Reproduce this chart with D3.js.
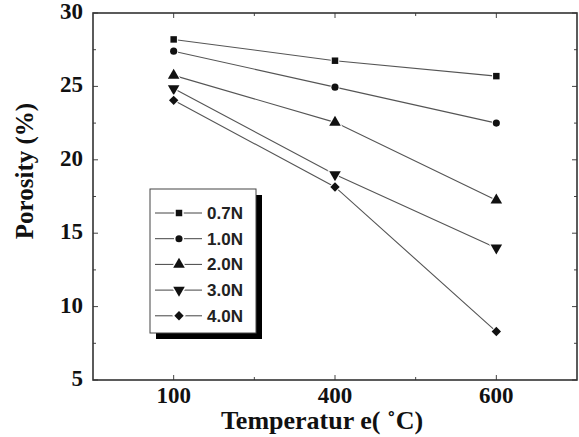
<!DOCTYPE html>
<html lang="en">
<head>
<meta charset="UTF-8">
<title>Porosity vs Temperature</title>
<script src="https://cdn.jsdelivr.net/npm/d3@7"></script>
<style>
    body { margin: 0; background: #fff; }
    .tick-label { font-family: "Liberation Serif", "Times New Roman", serif; font-weight: bold; font-size: 23px; fill: #111; }
    .axis-title { font-family: "Liberation Serif", "Times New Roman", serif; font-weight: bold; font-size: 26px; fill: #111; }
    .legend text { font-family: "Liberation Sans", Arial, sans-serif; font-weight: bold; font-size: 17px; fill: #222; }
</style>
</head>
<body>
<script>
const temps = ["100", "400", "600"];
const loads = ["0.7N", "1.0N", "2.0N", "3.0N", "4.0N"];
const porosity07 = [28.2, 26.75, 25.7];
const porosity10 = [27.4, 24.95, 22.5];
const porosity20 = [25.75, 22.55, 17.25];
const porosity30 = [24.85, 19.0, 14.0];
const porosity40 = [24.05, 18.15, 8.3];
const yTicks = [5, 10, 15, 20, 25, 30];
const symbolTypes = ["square", "circle", "up", "down", "diamond"];

const series = loads.map((name, i) => ({
    name: name,
    values: [porosity07, porosity10, porosity20, porosity30, porosity40][i],
    symbol: symbolTypes[i]
}));

const w = 579, h = 437;
const mLeft = 93, mRight = 577, mTop = 13, mBottom = 380;

const svg = d3.select("body").append("svg")
    .attr("width", w).attr("height", h);

const x = d3.scalePoint().domain(temps).range([mLeft, mRight]).padding(0.5);
const y = d3.scaleLinear().domain([5, 30]).range([mBottom, mTop]);

// marker helpers: diamond = rotated square, down = rotated triangle
function markerPath(s) {
    if (s === "square") return d3.symbol().type(d3.symbolSquare).size(42)();
    if (s === "circle") return d3.symbol().type(d3.symbolCircle).size(40)();
    if (s === "diamond") return d3.symbol().type(d3.symbolSquare).size(44)();
    return d3.symbol().type(d3.symbolTriangle).size(58)();
}
function markerTransform(s, cx, cy) {
    let r = s === "down" ? " rotate(180)" : (s === "diamond" ? " rotate(45)" : "");
    return "translate(" + cx + "," + cy + ")" + r;
}

// ticks (inward, all four sides)
const minorY = d3.range(7.5, 30, 5);
const g = svg.append("g").attr("stroke", "#444").attr("stroke-width", 1);
yTicks.forEach(v => {
    g.append("line").attr("x1", mLeft).attr("x2", mLeft + 5).attr("y1", y(v)).attr("y2", y(v));
    g.append("line").attr("x1", mRight).attr("x2", mRight - 5).attr("y1", y(v)).attr("y2", y(v));
});
minorY.forEach(v => {
    g.append("line").attr("x1", mLeft).attr("x2", mLeft + 3).attr("y1", y(v)).attr("y2", y(v));
    g.append("line").attr("x1", mRight).attr("x2", mRight - 3).attr("y1", y(v)).attr("y2", y(v));
});
temps.forEach((t, i) => {
    g.append("line").attr("x1", x(t)).attr("x2", x(t)).attr("y1", mBottom).attr("y2", mBottom - 5);
    g.append("line").attr("x1", x(t)).attr("x2", x(t)).attr("y1", mTop).attr("y2", mTop + 5);
    if (i < temps.length - 1) {
        let mx = (x(t) + x(temps[i + 1])) / 2;
        g.append("line").attr("x1", mx).attr("x2", mx).attr("y1", mBottom).attr("y2", mBottom - 3);
        g.append("line").attr("x1", mx).attr("x2", mx).attr("y1", mTop).attr("y2", mTop + 3);
    }
});

// frame
svg.append("rect")
    .attr("x", mLeft).attr("y", mTop)
    .attr("width", mRight - mLeft).attr("height", mBottom - mTop)
    .attr("fill", "none").attr("stroke", "#333").attr("stroke-width", 1.6);

// tick labels
svg.selectAll(".ylab").data(yTicks).enter().append("text")
    .attr("class", "tick-label")
    .attr("x", mLeft - 10).attr("y", d => y(d) + 6)
    .attr("text-anchor", "end")
    .text(d => d);

svg.selectAll(".xlab").data(temps).enter().append("text")
    .attr("class", "tick-label")
    .attr("x", d => x(d)).attr("y", 403)
    .attr("text-anchor", "middle")
    .text(d => d);

// axis titles
svg.append("text").attr("class", "axis-title")
    .style("font-size", "25px")
    .attr("transform", "translate(33,171) rotate(-90)")
    .attr("text-anchor", "middle")
    .text("Porosity (%)");

svg.append("text").attr("class", "axis-title")
    .attr("x", 322).attr("y", 429)
    .attr("text-anchor", "middle")
    .text("Temperatur e( \u02DAC)");

// lines
const line = d3.line().x((d, i) => x(temps[i])).y(d => y(d));
svg.selectAll(".series").data(series).enter().append("path")
    .attr("d", d => line(d.values))
    .attr("fill", "none")
    .attr("stroke", "#555")
    .attr("stroke-width", 1.1);

// markers
series.forEach(s => {
    svg.selectAll(null).data(s.values).enter().append("path")
        .attr("d", markerPath(s.symbol))
        .attr("transform", (d, i) => markerTransform(s.symbol, x(temps[i]), y(d)))
        .attr("fill", "#111")
        .attr("stroke", "#fff")
        .attr("stroke-width", 2)
        .attr("paint-order", "stroke");
});

// legend
const lg = svg.append("g").attr("class", "legend");
lg.append("rect").attr("x", 156).attr("y", 195).attr("width", 106).attr("height", 144).attr("fill", "#000");
lg.append("rect").attr("x", 150).attr("y", 189).attr("width", 106).attr("height", 144)
    .attr("fill", "#fff").attr("stroke", "#444").attr("stroke-width", 1);

series.forEach((s, i) => {
    let cy = 213 + i * 25.7;
    lg.append("line").attr("x1", 155).attr("x2", 202).attr("y1", cy).attr("y2", cy)
        .attr("stroke", "#444").attr("stroke-width", 1);
    lg.append("path")
        .attr("d", markerPath(s.symbol))
        .attr("transform", markerTransform(s.symbol, 179, cy))
        .attr("fill", "#111")
        .attr("stroke", "#fff").attr("stroke-width", 3).attr("paint-order", "stroke");
    lg.append("text").attr("x", 207).attr("y", cy + 6).text(s.name);
});
</script>
</body>
</html>
